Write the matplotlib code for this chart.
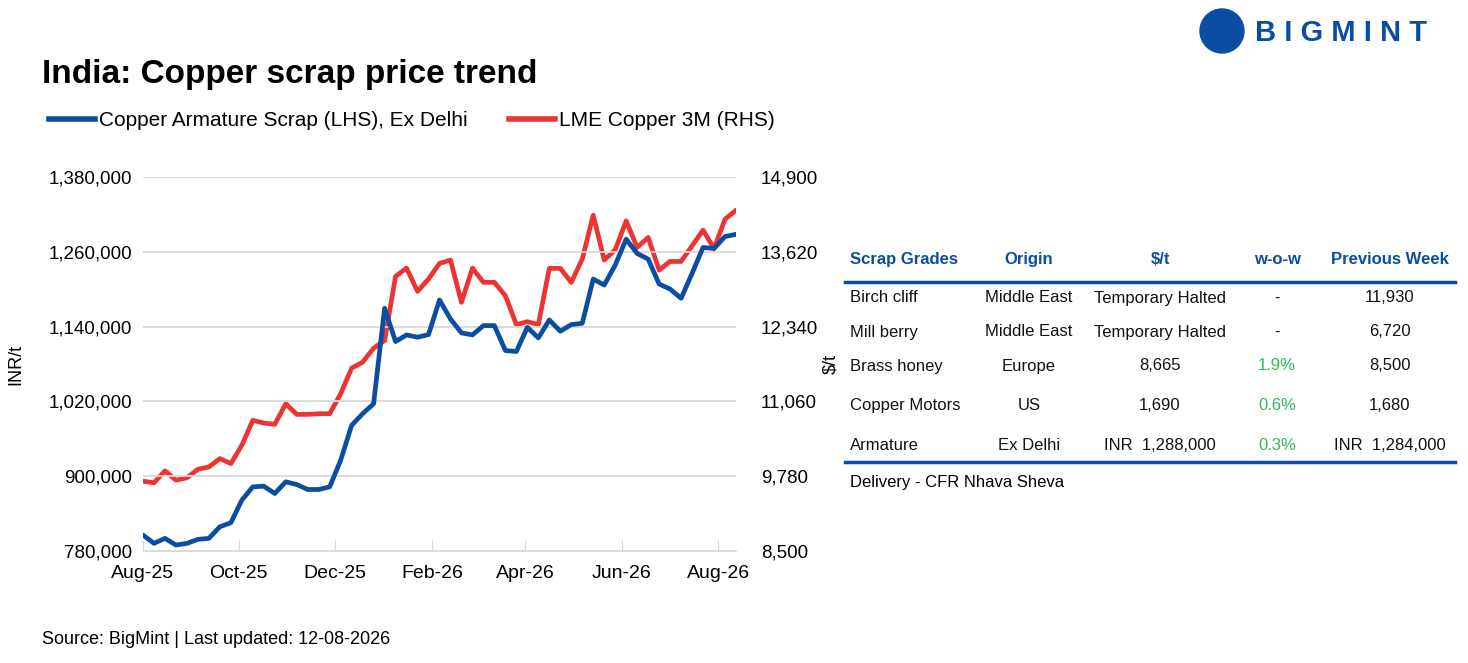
import matplotlib.pyplot as plt
from matplotlib.lines import Line2D
from matplotlib.patches import Ellipse

plt.rcParams['font.family'] = ['Liberation Sans', 'DejaVu Sans']

# weekly prices, Aug-25 .. Aug-26
armature_inr = [805600, 792267, 800267, 789600, 792267, 798667, 800267, 818933, 825333, 861600,
                882933, 884000, 872267, 890933, 886667, 878667, 878667, 882933, 925600, 981600,
                1000267, 1016267, 1169333, 1116000, 1126667, 1122933, 1127200, 1182667, 1152267, 1129867,
                1126667, 1141600, 1141600, 1101600, 1100000, 1138933, 1121867, 1150667, 1132533, 1143200,
                1145333, 1216267, 1206667, 1238667, 1280267, 1257333, 1248267, 1208267, 1200267, 1185333,
                1225333, 1266933, 1265333, 1284533, 1288000]
lme_usd = [9695, 9667, 9871, 9712, 9752, 9899, 9939, 10081, 9996, 10309,
           10736, 10690, 10667, 11020, 10838, 10838, 10849, 10849, 11191, 11629,
           11731, 11970, 12101, 13199, 13341, 12943, 13154, 13421, 13478, 12755,
           13341, 13097, 13097, 12869, 12374, 12425, 12374, 13336, 13336, 13097,
           13495, 14246, 13478, 13654, 14149, 13694, 13865, 13307, 13455, 13455,
           13722, 13990, 13677, 14177, 14331]
month_labels = ['Aug-25', 'Oct-25', 'Dec-25', 'Feb-26', 'Apr-26', 'Jun-26', 'Aug-26']
month_pos = [0, 8.73, 17.5, 26.3, 34.8, 43.6, 52.4]
left_ticks = [780000, 900000, 1020000, 1140000, 1260000, 1380000]
right_ticks = [8500, 9780, 11060, 12340, 13620, 14900]

table_header = ['Scrap Grades', 'Origin', '$/t', 'w-o-w', 'Previous Week']
table_rows = [
    ['Birch cliff', 'Middle East', 'Temporary Halted', '-', '11,930'],
    ['Mill berry', 'Middle East', 'Temporary Halted', '-', '6,720'],
    ['Brass honey', 'Europe', '8,665', '1.9%', '8,500'],
    ['Copper Motors', 'US', '1,690', '0.6%', '1,680'],
    ['Armature', 'Ex Delhi', 'INR  1,288,000', '0.3%', 'INR  1,284,000'],
]

BLUE = '#0a4da2'
RED = '#ee3333'
W, H = 1468, 663

fig = plt.figure(figsize=(W / 100, H / 100), dpi=100)
ax = fig.add_axes([143 / W, 1 - 551 / H, 593 / W, 374 / H])
x = list(range(len(armature_inr)))
ax.plot(x, armature_inr, color=BLUE, lw=3.4, solid_capstyle='round')
ax.set_ylim(780000, 1380000)
ax.set_xlim(0, len(x) - 1)
ax.set_yticks(left_ticks)
ax.set_yticklabels([f'{v:,}' for v in left_ticks], fontsize=13.5)
ax.set_xticks(month_pos)
ax.set_xticklabels(month_labels, fontsize=14)
ax.grid(axis='y', color='#d9d9d9', lw=1.3)
ax.set_axisbelow(True)
for s in ['top', 'right', 'left']:
    ax.spines[s].set_visible(False)
ax.spines['bottom'].set_color('#d9d9d9')
ax.tick_params(axis='y', length=0, pad=8)
ax.tick_params(axis='x', color='#d9d9d9', length=8, direction='in', pad=10)
ax.set_ylabel('INR/t', fontsize=13)
ax.yaxis.set_label_coords(-0.2, 0.5)

ax2 = ax.twinx()
ax2.plot(x, lme_usd, color=RED, lw=3.4, solid_capstyle='round')
ax2.set_ylim(8500, 14900)
ax2.set_yticks(right_ticks)
ax2.set_yticklabels([f'{v:,}' for v in right_ticks], fontsize=13.5)
for s in ax2.spines.values():
    s.set_visible(False)
ax2.tick_params(axis='y', length=0, pad=18)
ax2.set_ylabel('$/t', fontsize=13)
ax2.yaxis.set_label_coords(1.145, 0.5)
ax.set_zorder(ax2.get_zorder() + 1)
ax.patch.set_visible(False)

fig.text(42 / W, 1 - 75 / H, 'India: Copper scrap price trend', fontsize=24, fontweight='bold', va='center')
fig.legend(handles=[Line2D([], [], color=BLUE, lw=4), Line2D([], [], color=RED, lw=4)],
           labels=['Copper Armature Scrap (LHS), Ex Delhi', 'LME Copper 3M (RHS)'],
           loc='center left', bbox_to_anchor=(30 / W, 1 - 121 / H), ncol=2, frameon=False,
           fontsize=15, handlelength=2.2, handletextpad=0.2, columnspacing=2.0)
fig.text(42 / W, 1 - 640 / H, 'Source: BigMint | Last updated: 12-08-2026', fontsize=13, va='center')

# logo
fig.patches.append(Ellipse((1222 / W, 1 - 31 / H), 44 / W, 44 / H, transform=fig.transFigure, color=BLUE))
fig.text(1255 / W, 1 - 33 / H, 'B I G M I N T', fontsize=21, fontweight='bold', color=BLUE, va='center')

# table
col_x = [850, 1029, 1160, 1277, 1390]
col_ha = ['left', 'center', 'center', 'center', 'center']
for cx, ha, t in zip(col_x, col_ha, table_header):
    fig.text(cx / W, 1 - 260 / H, t, fontsize=12, fontweight='bold', color=BLUE, ha=ha, va='center')
row_y = [298, 332, 366, 405, 445]
for ry, row in zip(row_y, table_rows):
    for i, (cx, ha, t) in enumerate(zip(col_x, col_ha, row)):
        c = '#33bb55' if i == 3 and t != '-' else '#111111'
        fig.text(cx / W, 1 - ry / H, t, fontsize=12, ha=ha, va='center', color=c)
for ly in [282, 462]:
    fig.add_artist(Line2D([845 / W, 1455 / W], [1 - ly / H] * 2, color=BLUE, lw=2.5))
fig.text(850 / W, 1 - 482 / H, 'Delivery - CFR Nhava Sheva', fontsize=12, va='center')

fig.savefig('out.png', dpi=100)
